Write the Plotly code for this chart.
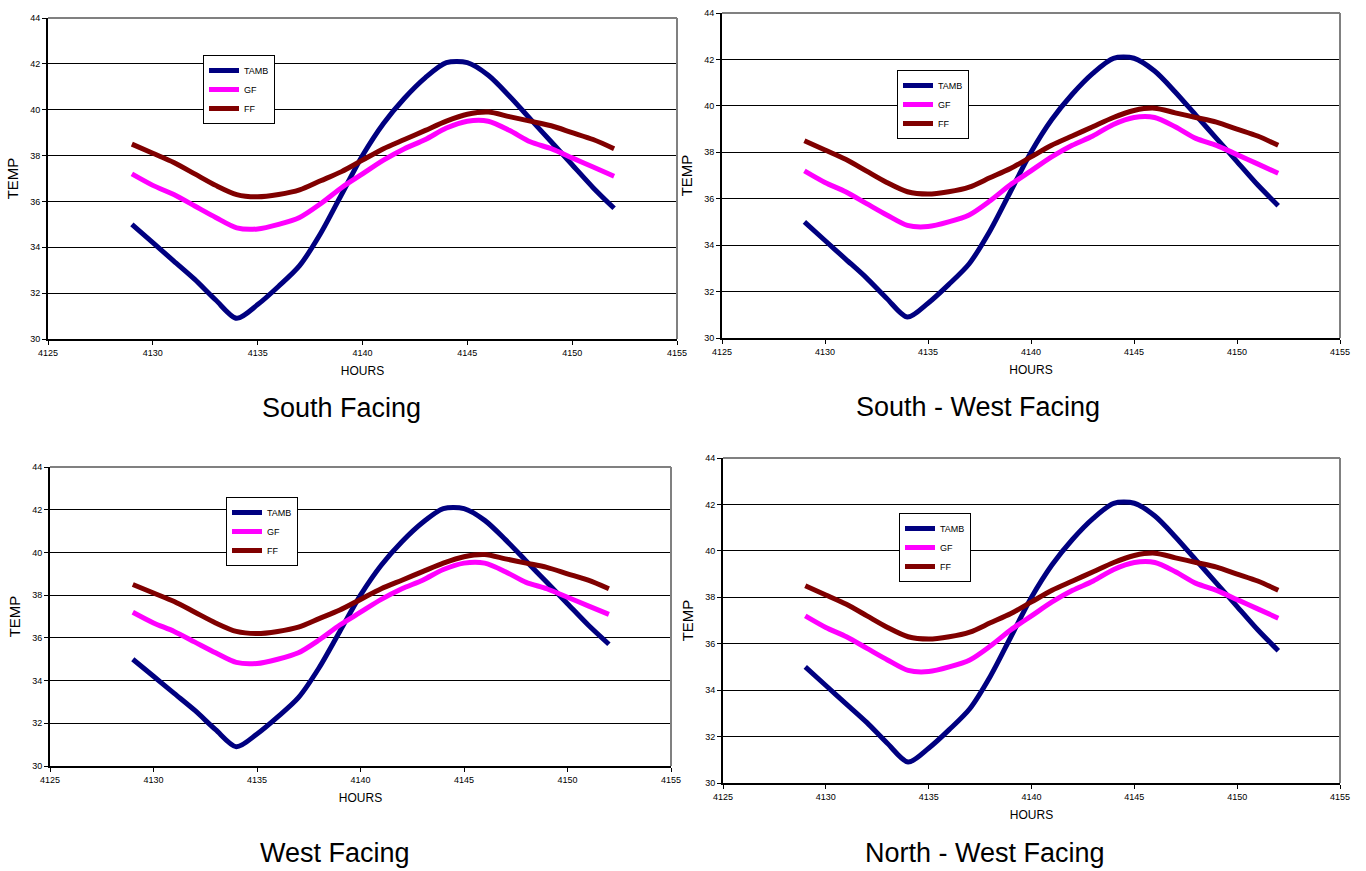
import plotly.graph_objects as go

hours = [4129, 4130, 4131, 4132, 4133, 4134, 4135, 4136, 4137, 4138, 4139, 4140,
         4141, 4142, 4143, 4144, 4145, 4146, 4147, 4148, 4149, 4150, 4151, 4152]
tamb = [35.0, 34.2, 33.4, 32.6, 31.7, 30.9, 31.5, 32.3, 33.2, 34.6, 36.3, 38.0,
        39.4, 40.5, 41.4, 42.05, 42.05, 41.5, 40.6, 39.6, 38.6, 37.6, 36.6, 35.7]
gf = [37.2, 36.7, 36.3, 35.8, 35.3, 34.85, 34.8, 35.0, 35.3, 35.9, 36.6, 37.2,
      37.8, 38.3, 38.7, 39.2, 39.5, 39.5, 39.1, 38.6, 38.3, 37.9, 37.5, 37.1]
ff = [38.5, 38.1, 37.7, 37.2, 36.7, 36.3, 36.2, 36.3, 36.5, 36.9, 37.3, 37.8,
      38.3, 38.7, 39.1, 39.5, 39.8, 39.9, 39.7, 39.5, 39.3, 39.0, 38.7, 38.3]

series_names = ["TAMB", "GF", "FF"]
series_colors = ["#000080", "#FF00FF", "#800000"]
panel_titles = ["South Facing", "South - West Facing", "West Facing", "North - West Facing"]
x_ticks = [4125, 4130, 4135, 4140, 4145, 4150, 4155]
y_ticks = [30, 32, 34, 36, 38, 40, 42, 44]

W, H = 1366, 871
# pixel boxes of the plot areas: (left, right, top, bottom)
boxes = [(48, 677, 18, 339), (722, 1340, 13, 338), (50, 671, 467, 766), (723, 1340, 458, 783)]
legend_pos = [(203, 55), (897, 70), (226, 497), (899, 513)]
title_pos = [(341, 408), (978, 407), (335, 853), (985, 853)]

fig = go.Figure()
FONT = "Liberation Sans, Arial, sans-serif"

for i, (l, r, t, b) in enumerate(boxes):
    n = "" if i == 0 else str(i + 1)
    lg = "legend" + n
    for name, col, vals in zip(series_names, series_colors, [tamb, gf, ff]):
        fig.add_trace(go.Scatter(x=hours, y=vals, name=name, mode="lines",
                                 line=dict(color=col, width=5, shape="spline", smoothing=0.8),
                                 xaxis="x" + n, yaxis="y" + n, legend=lg))
    fig.update_layout(**{
        "xaxis" + n: dict(domain=[l / W, r / W], range=[4125, 4155], tickvals=x_ticks,
                          anchor="y" + n, showgrid=False, showline=True, linecolor="black",
                          linewidth=2, ticks="outside", ticklen=4, tickcolor="black",
                          automargin=False,
                          tickfont=dict(size=9, color="black", family=FONT),
                          title=dict(text="HOURS", font=dict(size=12, color="black", family=FONT),
                                     standoff=10),
                          zeroline=False),
        "yaxis" + n: dict(domain=[1 - b / H, 1 - t / H], range=[30, 44], tickvals=y_ticks,
                          anchor="x" + n, showgrid=True, gridcolor="black", gridwidth=1,
                          showline=True, linecolor="black", linewidth=2, ticks="outside",
                          ticklen=4, tickcolor="black", automargin=False,
                          tickfont=dict(size=9, color="black", family=FONT),
                          title=dict(text="TEMP", font=dict(size=15, color="black", family=FONT),
                                     standoff=8),
                          zeroline=False),
        lg: dict(x=legend_pos[i][0] / W, y=1 - legend_pos[i][1] / H, xanchor="left",
                 yanchor="top", bordercolor="black", borderwidth=1, bgcolor="white",
                 font=dict(size=9, color="black", family=FONT), tracegroupgap=0,
                 itemwidth=30),
    })
    # gray top and right border
    fig.add_shape(type="line", xref="paper", yref="paper", x0=l / W, x1=r / W,
                  y0=1 - t / H, y1=1 - t / H, line=dict(color="#808080", width=2), layer="above")
    fig.add_shape(type="line", xref="paper", yref="paper", x0=r / W, x1=r / W,
                  y0=1 - t / H, y1=1 - b / H, line=dict(color="#808080", width=2), layer="above")
    fig.add_annotation(text=panel_titles[i], xref="paper", yref="paper",
                       x=title_pos[i][0] / W, y=1 - title_pos[i][1] / H, showarrow=False,
                       xanchor="center", yanchor="middle",
                       font=dict(size=27, color="black", family=FONT))

fig.update_layout(width=W, height=H, margin=dict(l=0, r=0, t=0, b=0),
                  paper_bgcolor="white", plot_bgcolor="white", showlegend=True)

fig.write_html("out.html")
